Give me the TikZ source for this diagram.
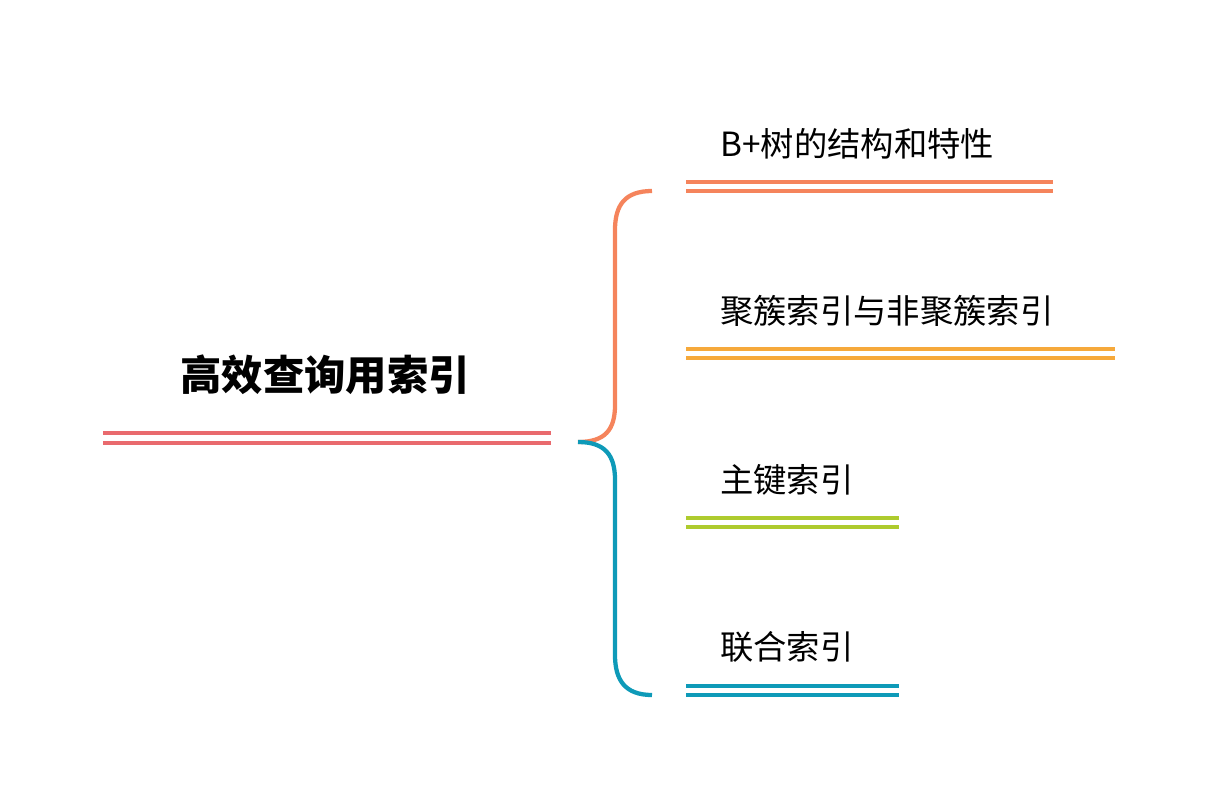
\documentclass[tikz,border=0pt]{standalone}
\usepackage{fontspec}
\setmainfont{Noto Sans CJK SC}
\definecolor{cred}{HTML}{E96A6E}
\definecolor{corange}{HTML}{F5845C}
\definecolor{cyellow}{HTML}{F6A93B}
\definecolor{cgreen}{HTML}{AECB2E}
\definecolor{cblue}{HTML}{0E9AB8}
\begin{document}
\begin{tikzpicture}[x=0.75pt,y=-0.75pt,
  dbl/.style={line width=3pt},
  br/.style={line width=3.2pt},
  lbl/.style={anchor=west,inner sep=0pt,font=\fontsize{25}{30}\selectfont}]
\useasboundingbox (0,0) rectangle (1216,796);
\node[inner sep=0pt,font=\fontsize{31}{36}\selectfont\bfseries] (root) at (325,375) {高效查询用索引};
\draw[dbl,cred] (103,433) -- (551,433) (103,443) -- (551,443);
\coordinate (s) at (578,442);
\coordinate (t1) at (652,191);
\coordinate (t2) at (652,695);
\draw[br,corange] (s) .. controls (605,442) and (615,430) .. (615,405) -- (615,230) .. controls (615,205) and (625,191) .. (t1);
\draw[br,cblue] (s) .. controls (605,442) and (615,455) .. (615,480) -- (615,655) .. controls (615,680) and (625,695) .. (t2);
\node[lbl] (a) at (720,144) {B+树的结构和特性};
\node[lbl] (b) at (720,311) {聚簇索引与非聚簇索引};
\node[lbl] (c) at (720,480) {主键索引};
\node[lbl] (d) at (720,647) {联合索引};
\draw[dbl,corange] (686,182) -- (1053,182) (686,191) -- (1053,191);
\draw[dbl,cyellow] (686,349) -- (1115,349) (686,358) -- (1115,358);
\draw[dbl,cgreen] (686,518) -- (899,518) (686,527) -- (899,527);
\draw[dbl,cblue] (686,686) -- (899,686) (686,695) -- (899,695);
\end{tikzpicture}
\end{document}
